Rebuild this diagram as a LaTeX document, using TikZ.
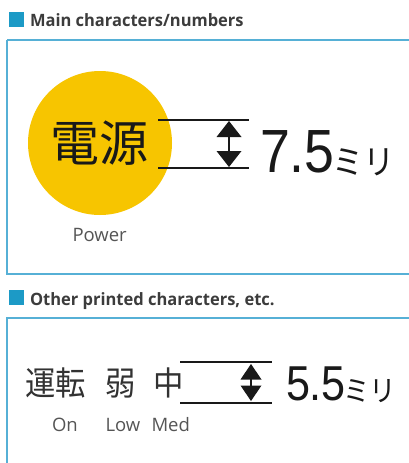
\documentclass[tikz,border=0pt]{standalone}
\usepackage{fontspec}
\setmainfont{Open Sans}
\newfontfamily\cjkfont{Noto Sans CJK JP}
\newfontfamily\numfont{Liberation Sans}
\newfontfamily\titlefont{Open Sans}
\definecolor{sqcol}{RGB}{28,154,198}
\definecolor{boxcol}{RGB}{86,176,214}
\definecolor{titlecol}{RGB}{60,60,60}
\definecolor{labelcol}{RGB}{85,85,85}
\definecolor{circcol}{RGB}{247,197,0}
\definecolor{inkcol}{RGB}{25,25,25}
\definecolor{inkgray}{RGB}{50,50,50}
\tikzset{
  txt/.style={anchor=base west, inner sep=0pt, outer sep=0pt},
  titletext/.style={txt, text=titlecol, font=\titlefont\bfseries\fontsize{17}{19}\selectfont},
  labeltext/.style={txt, text=labelcol, font=\fontsize{18.5}{20}\selectfont},
  panel/.style={draw=boxcol, line width=1.3pt},
  marker/.style={fill=sqcol, draw=none},
  dimline/.style={line width=2.7pt, draw=inkcol},
  dimstem/.style={line width=1.6pt, draw=inkcol},
  dimhead/.style={fill=inkcol, draw=none}
}
\begin{document}
\begin{tikzpicture}[x=1pt, y=-1pt]
\useasboundingbox (0,0) rectangle (409,463);
\fill[white] (0,0) rectangle (409,463);

% ---------- Section 1 ----------
\fill[marker] (9,12) rectangle (24,27);
\node[titletext, xscale=0.97] (t1) at (30,27) {Main characters/numbers};
\draw[panel] (7,40) -- (415,40) (7,40) -- (7,274) -- (415,274);

\fill[circcol] (100,143) circle[radius=72];
\node[txt, text=inkcol, font=\cjkfont\fontsize{49}{50}\selectfont] (dengen) at (50.5,161.5) {電源};

\coordinate (a1l) at (158,120); \coordinate (a1r) at (249,120);
\coordinate (b1l) at (158,168); \coordinate (b1r) at (249,168);
\draw[dimline] (a1l) -- (a1r);
\draw[dimline] (b1l) -- (b1r);
\coordinate (h1t) at (229,121); \coordinate (h1b) at (229,167);
\draw[dimstem] (229,135) -- (229,153);
\fill[dimhead] (h1t) -- (216.5,137) -- (241.5,137) -- cycle;
\fill[dimhead] (h1b) -- (216.5,151) -- (241.5,151) -- cycle;

\node[txt, text=inkcol, font=\numfont\fontsize{61}{62}\selectfont, xscale=0.88] (n1) at (260,172) {7.5};
\node[txt, text=inkcol, font=\cjkfont\fontsize{34}{35}\selectfont, xscale=0.92] (u1) at (332,174) {ミリ};

\node[labeltext] (power) at (72.5,241) {Power};

% ---------- Section 2 ----------
\fill[marker] (9,290) rectangle (24,305);
\node[titletext, xscale=0.97] (t2) at (30,305) {Other printed characters, etc.};
\draw[panel] (415,318) -- (7,318) -- (7,470);

\node[txt, text=inkgray, font=\cjkfont\fontsize{33}{34}\selectfont, xscale=0.92] (unten) at (25.5,395.5) {運転};
\node[txt, text=inkgray, font=\cjkfont\fontsize{33}{34}\selectfont, xscale=0.92] (jaku) at (105.5,395.5) {弱};
\node[txt, text=inkgray, font=\cjkfont\fontsize{33}{34}\selectfont, xscale=0.92] (chu) at (153,395.5) {中};

\coordinate (a2l) at (180,362); \coordinate (a2r) at (272,362);
\coordinate (b2l) at (180,403); \coordinate (b2r) at (272,403);
\draw[dimline] (a2l) -- (a2r);
\draw[dimline] (b2l) -- (b2r);
\coordinate (h2t) at (251,364); \coordinate (h2b) at (251,401);
\draw[dimstem] (251,378) -- (251,388);
\fill[dimhead] (h2t) -- (240.5,379.5) -- (261.5,379.5) -- cycle;
\fill[dimhead] (h2b) -- (240.5,385.5) -- (261.5,385.5) -- cycle;

\node[txt, text=inkcol, font=\numfont\fontsize{49}{50}\selectfont, xscale=0.88] (n2) at (286,400) {5.5};
\node[txt, text=inkcol, font=\cjkfont\fontsize{29}{30}\selectfont, xscale=0.92] (u2) at (343,401) {ミリ};

\node[labeltext] (on) at (52,431) {On};
\node[labeltext] (low) at (105.5,431) {Low};
\node[labeltext] (med) at (151.5,431) {Med};
\end{tikzpicture}
\end{document}
